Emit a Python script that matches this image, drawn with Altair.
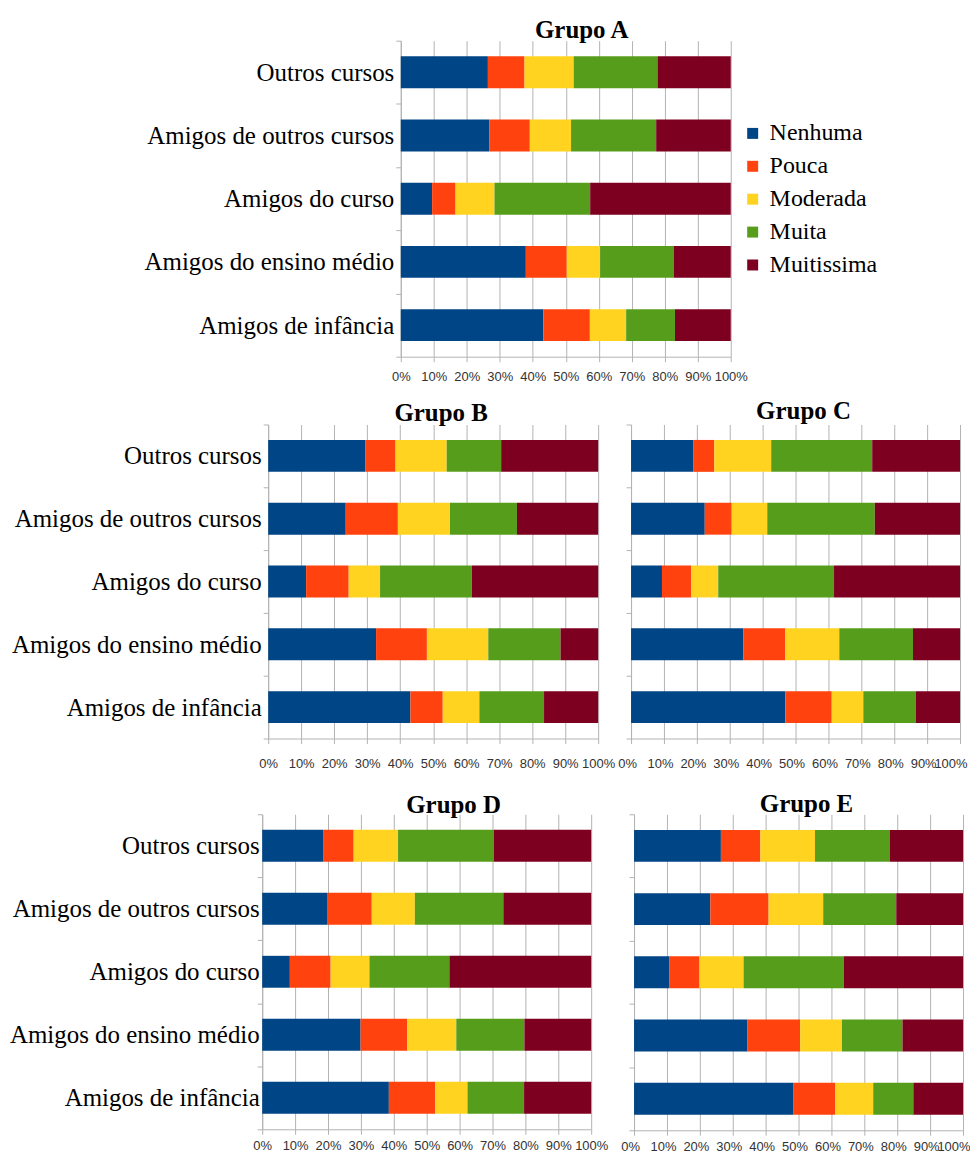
import altair as alt
import pandas as pd

categorias = ["Outros cursos", "Amigos de outros cursos", "Amigos do curso",
              "Amigos do ensino médio", "Amigos de infância"]
niveis = ["Nenhuma", "Pouca", "Moderada", "Muita", "Muitissima"]
cores = ["#004586", "#ff420e", "#ffd320", "#579d1c", "#7e0021"]
ticks_x = [0, 0.1, 0.2, 0.3, 0.4, 0.5, 0.6, 0.7, 0.8, 0.9, 1.0]

# percentages per category (rows follow 'categorias', columns follow 'niveis')
grupo_a = [
    [26.4, 11.1, 14.9, 25.4, 22.2],
    [26.8, 12.3, 12.5, 25.8, 22.6],
    [9.5, 7.1, 11.8, 29.0, 42.6],
    [37.9, 12.4, 10.1, 22.4, 17.2],
    [43.2, 14.1, 11.0, 14.8, 16.9],
]
grupo_b = [
    [29.5, 9.1, 15.5, 16.5, 29.4],
    [23.5, 15.8, 15.8, 20.3, 24.6],
    [11.5, 12.9, 9.5, 27.8, 38.3],
    [32.7, 15.4, 18.6, 21.9, 11.4],
    [43.1, 9.8, 11.1, 19.6, 16.4],
]
grupo_c = [
    [19.0, 6.3, 17.3, 30.7, 26.7],
    [22.4, 8.2, 10.8, 32.7, 25.9],
    [9.4, 8.9, 8.2, 35.2, 38.3],
    [34.1, 12.7, 16.5, 22.4, 14.3],
    [46.9, 14.1, 9.6, 16.0, 13.4],
]
grupo_d = [
    [18.5, 9.3, 13.5, 29.1, 29.6],
    [19.7, 13.6, 13.1, 26.9, 26.7],
    [8.4, 12.4, 11.8, 24.3, 43.1],
    [29.9, 14.2, 14.9, 20.7, 20.3],
    [38.5, 14.1, 9.8, 17.2, 20.4],
]
grupo_e = [
    [26.4, 12.0, 16.6, 22.8, 22.2],
    [23.2, 17.7, 16.6, 22.2, 20.3],
    [10.8, 9.1, 13.4, 30.5, 36.2],
    [34.5, 16.0, 12.7, 18.4, 18.4],
    [48.5, 12.7, 11.5, 12.2, 15.1],
]

SERIF = "Liberation Serif"
SANS = "Liberation Sans"
GRID = "#b3b3b3"


def tabela(valores):
    linhas = []
    for cat, vals in zip(categorias, valores):
        for i, (nivel, v) in enumerate(zip(niveis, vals)):
            linhas.append({"categoria": cat, "nivel": nivel, "ordem": i, "valor": v})
    return pd.DataFrame(linhas)


def painel(titulo, valores, w, h, rotulos, pad_x, pad_y, title_dx, title_off,
           legenda=False, borda=False):
    if legenda:
        leg = alt.Legend(orient="none", legendX=341, legendY=81, title=None,
                         symbolType="square", symbolSize=121, symbolStrokeWidth=0,
                         labelFont=SERIF, labelFontSize=24, labelColor="black",
                         labelOffset=5, rowPadding=9, labelLimit=0)
    else:
        leg = None
    extra = {}
    if borda:
        # last tick label pulled in so the page does not overflow on the right
        extra = dict(
            labelAlign={"condition": {"test": "datum.value >= 1", "value": "right"},
                        "value": "center"},
            labelOffset={"condition": {"test": "datum.value >= 1", "value": 7},
                         "value": -4},
            labelOverlap=False,
        )
    return alt.Chart(tabela(valores)).mark_bar(size=32).encode(
        x=alt.X("valor:Q", stack="normalize",
                scale=alt.Scale(domain=[0, 1], nice=False),
                axis=alt.Axis(values=ticks_x, format=".0%", title=None,
                              grid=True, gridColor=GRID, domainColor=GRID,
                              tickColor=GRID, tickSize=5, labelFont=SANS,
                              labelFontSize=13, labelColor="#333333",
                              labelFlush=False, labelPadding=pad_x, **extra)),
        y=alt.Y("categoria:N", sort=categorias,
                scale=alt.Scale(paddingInner=0, paddingOuter=0),
                axis=alt.Axis(title=None, tickBand="extent", labels=rotulos,
                              labelFont=SERIF, labelFontSize=25, labelColor="black",
                              labelPadding=pad_y, labelLimit=0, tickSize=5,
                              tickColor=GRID, domainColor=GRID, grid=False)),
        color=alt.Color("nivel:N", scale=alt.Scale(domain=niveis, range=cores),
                        legend=leg),
        order=alt.Order("ordem:Q"),
    ).properties(
        width=w, height=h,
        title=alt.TitleParams(text=titulo, font=SERIF, fontSize=25, fontWeight="bold",
                              color="black", anchor="middle", offset=title_off,
                              dx=title_dx),
    )


def espaco(w):
    # empty spacer view (no marks drawn)
    return alt.Chart(pd.DataFrame({"v": pd.Series([], dtype="float")})).mark_point(
        opacity=0).encode(x=alt.X("v:Q", axis=None), y=alt.Y("v:Q", axis=None)).properties(
        width=w, height=1)


pa = painel("Grupo A", grupo_a, 331, 317, True, 9, 2, 16, -14, legenda=True)
pb = painel("Grupo B", grupo_b, 331, 315, True, 14, 2, 8, -13)
pc = painel("Grupo C", grupo_c, 330, 315, False, 14, 2, 8, 0, borda=True)
pd_ = painel("Grupo D", grupo_d, 330, 316, True, 5, -2, 27, -16)
pe = painel("Grupo E", grupo_e, 330, 317, False, 5, 2, 8, -3, borda=True)

linha1 = alt.hconcat(espaco(136), pa, spacing=0).resolve_scale(color="independent")
linha2 = alt.hconcat(espaco(3), alt.hconcat(pb, pc, spacing=2).resolve_scale(color="independent"),
                     spacing=0).resolve_scale(color="independent")
linha3 = alt.hconcat(espaco(1), alt.hconcat(pd_, pe, spacing=12).resolve_scale(color="independent"),
                     spacing=0).resolve_scale(color="independent")

topo = alt.vconcat(linha1, linha2, spacing=15).resolve_scale(color="independent")

chart = alt.vconcat(topo, linha3, spacing=21).resolve_scale(
    color="independent"
).properties(
    padding={"left": 0, "top": 8, "right": 0, "bottom": 0}
).configure_view(strokeWidth=0).configure_legend(
    labelFont=SERIF, labelFontSize=24, labelColor="black"
)

chart.save("out.html", embed_options={"renderer": "svg", "actions": False})
